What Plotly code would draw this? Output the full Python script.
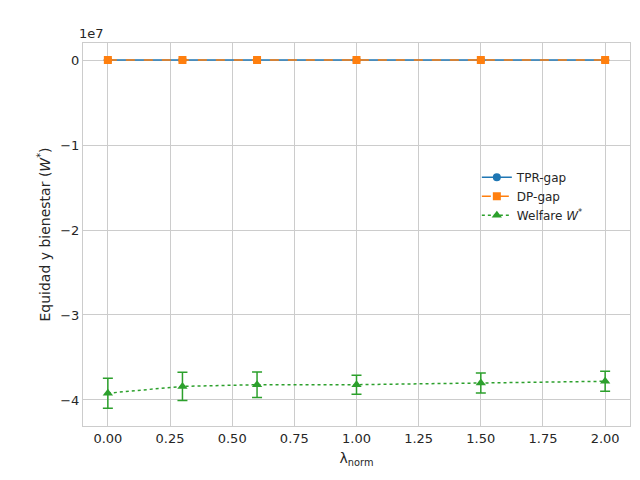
import plotly.graph_objects as go

lam = [0.0, 0.3, 0.6, 1.0, 1.5, 2.0]
tpr_gap = [0.02, 0.02, 0.02, 0.02, 0.02, 0.02]
dp_gap = [0.03, 0.03, 0.03, 0.03, 0.03, 0.03]
welfare = [-3.92e7, -3.84e7, -3.82e7, -3.82e7, -3.80e7, -3.78e7]
welfare_err = [0.176e7, 0.165e7, 0.15e7, 0.112e7, 0.118e7, 0.118e7]

ytick_vals = [0, -1e7, -2e7, -3e7, -4e7]
ytick_text = ["0", "\u22121", "\u22122", "\u22123", "\u22124"]
xtick_vals = [0, 0.25, 0.5, 0.75, 1.0, 1.25, 1.5, 1.75, 2.0]
xtick_text = ["0.00", "0.25", "0.50", "0.75", "1.00", "1.25", "1.50", "1.75", "2.00"]

fig = go.Figure()
fig.add_trace(go.Scatter(x=lam, y=tpr_gap, name="TPR-gap", mode="lines+markers",
                         line=dict(color="#1f77b4", width=1.5),
                         marker=dict(symbol="circle", size=8, color="#1f77b4"),
                         error_y=dict(type="data", array=[0.01] * 6, color="#1f77b4", width=4)))
fig.add_trace(go.Scatter(x=lam, y=dp_gap, name="DP-gap", mode="lines+markers",
                         line=dict(color="#ff7f0e", width=1.5, dash="dash"),
                         marker=dict(symbol="square", size=8, color="#ff7f0e"),
                         error_y=dict(type="data", array=[0.01] * 6, color="#ff7f0e", width=4)))
fig.add_trace(go.Scatter(x=lam, y=welfare, name="Welfare <i>W</i><sup>*</sup>", mode="lines+markers",
                         line=dict(color="#2ca02c", width=1.5, dash="dot"),
                         marker=dict(symbol="triangle-up", size=9, color="#2ca02c"),
                         error_y=dict(type="data", array=welfare_err, color="#2ca02c", width=5, thickness=1.5)))

axis_common = dict(showgrid=True, gridcolor="#cccccc", gridwidth=1, zeroline=False,
                   showline=True, linecolor="#cccccc", mirror=True, ticks="", automargin=False,
                   tickfont=dict(family="DejaVu Sans", size=13, color="#262626"))
fig.update_layout(
    width=640, height=480, plot_bgcolor="white", paper_bgcolor="white",
    margin=dict(l=75, r=18, t=35, b=62, autoexpand=False),
    font=dict(family="DejaVu Sans", color="#262626"),
    xaxis=dict(axis_common, range=[-0.1, 2.1], tickvals=xtick_vals, ticktext=xtick_text,
               title=dict(text="\u03bb<sub>norm</sub>", font=dict(size=14), standoff=8)),
    yaxis=dict(axis_common, range=[-4.306e7, 0.2e7], tickvals=ytick_vals, ticktext=ytick_text,
               title=dict(text="Equidad y bienestar (<i>W</i><sup>*</sup>)", font=dict(size=14), standoff=6)),
    legend=dict(x=0.72, y=0.6, xanchor="left", yanchor="middle", bgcolor="rgba(0,0,0,0)",
                font=dict(size=12)),
    annotations=[dict(text="1e7", x=0, y=1.0, xref="paper", yref="paper", xanchor="left",
                      yanchor="bottom", showarrow=False, font=dict(size=13), xshift=-6)],
)

fig.write_html("out.html")
